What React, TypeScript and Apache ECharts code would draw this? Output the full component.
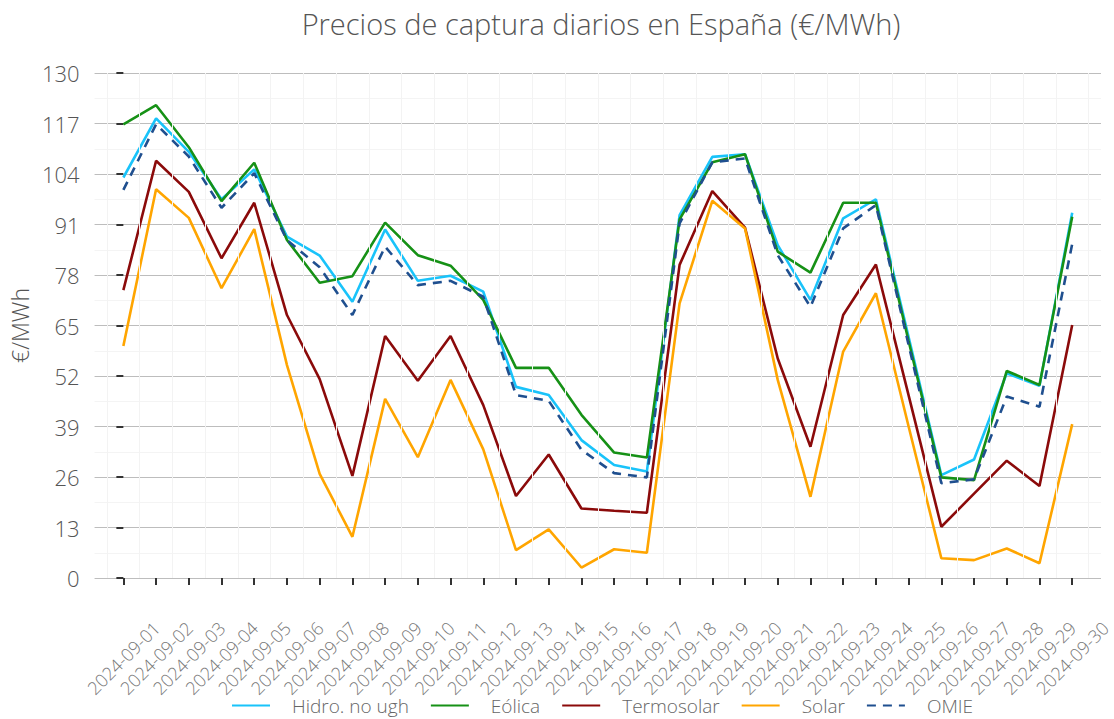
import React, { useEffect, useRef } from "react";
import * as echarts from "echarts";

const dates = [
  "2024-09-01", "2024-09-02", "2024-09-03", "2024-09-04", "2024-09-05",
  "2024-09-06", "2024-09-07", "2024-09-08", "2024-09-09", "2024-09-10",
  "2024-09-11", "2024-09-12", "2024-09-13", "2024-09-14", "2024-09-15",
  "2024-09-16", "2024-09-17", "2024-09-18", "2024-09-19", "2024-09-20",
  "2024-09-21", "2024-09-22", "2024-09-23", "2024-09-24", "2024-09-25",
  "2024-09-26", "2024-09-27", "2024-09-28", "2024-09-29", "2024-09-30",
];

const hidro = [103.1, 118.3, 109.7, 97.5, 105.2, 87.9, 83.0, 71.1, 89.7, 76.5, 77.8, 73.7, 49.2, 47.1, 35.5, 29.1, 27.4, 93.4, 108.4, 109.1, 85.7, 71.6, 92.6, 97.5, 62.0, 26.5, 30.5, 52.7, 49.5, 94.0];
const eolica = [116.8, 121.7, 110.9, 97.0, 106.9, 87.0, 76.0, 77.7, 91.5, 83.1, 80.4, 71.6, 54.1, 54.1, 42.0, 32.3, 31.0, 92.3, 107.0, 109.1, 84.0, 78.6, 96.6, 96.6, 61.0, 25.9, 25.2, 53.3, 49.7, 93.0];
const termosolar = [74.1, 107.4, 99.4, 82.3, 96.6, 67.7, 51.2, 26.3, 62.3, 50.8, 62.3, 44.5, 21.1, 31.8, 17.9, 17.3, 16.8, 80.6, 99.6, 90.2, 56.5, 33.8, 67.7, 80.7, 47.0, 13.2, 21.7, 30.2, 23.7, 65.1];
const solar = [59.7, 100.1, 92.7, 74.6, 89.8, 54.8, 26.8, 10.6, 46.1, 31.1, 51.0, 33.1, 7.2, 12.5, 2.7, 7.4, 6.5, 70.7, 97.1, 90.0, 51.0, 20.9, 58.3, 73.3, 39.0, 5.1, 4.6, 7.6, 3.8, 39.6];
const omie = [99.9, 116.8, 108.5, 95.3, 104.2, 87.0, 80.0, 67.7, 85.3, 75.4, 76.5, 72.4, 47.1, 45.6, 33.0, 27.0, 25.9, 91.3, 107.0, 108.0, 83.1, 69.8, 90.0, 96.0, 60.0, 24.4, 25.4, 46.7, 44.1, 86.0];

const seriesNames = ["Hidro. no ugh", "Eólica", "Termosolar", "Solar", "OMIE"];
const seriesColors = ["#19C3FA", "#169116", "#8B0A0A", "#FFA500", "#1F4F8F"];
const seriesData = [hidro, eolica, termosolar, solar, omie];

const yTicks = [0, 13, 26, 39, 52, 65, 78, 91, 104, 117, 130];

const FONT = "'Open Sans', Lato, sans-serif";

export default function App() {
  const ref = useRef<HTMLDivElement>(null);

  useEffect(() => {
    if (!ref.current) return;
    const chart = echarts.init(ref.current, null, { renderer: "svg" });
    const idx = dates.map((_, i) => i);
    const minorX = dates.map((_, i) => i - 0.5).concat([dates.length - 0.5]);

    const series: any[] = seriesNames.map((name, s) => ({
      name,
      type: "line",
      data: seriesData[s].map((v, i) => [i, v]),
      symbol: "none",
      showSymbol: false,
      lineStyle: {
        color: seriesColors[s],
        width: 2.6,
        type: s === 4 ? [9, 7] : "solid",
      },
      itemStyle: { color: seriesColors[s] },
      z: s === 4 ? 5 : 3,
    }));
    series.push({
      name: "__minor",
      type: "line",
      data: [],
      silent: true,
      markLine: {
        silent: true,
        symbol: "none",
        label: { show: false },
        lineStyle: { color: "#f3f3f3", width: 1, type: "solid" },
        data: minorX.map((x) => ({ xAxis: x })),
      },
      z: 0,
    });

    chart.setOption({
      animation: false,
      backgroundColor: "#ffffff",
      title: {
        text: "Precios de captura diarios en España (€/MWh)",
        left: 596,
        textAlign: "center",
        top: 4,
        textStyle: {
          fontFamily: FONT,
          fontSize: 29,
          fontWeight: 300,
          color: "#555555",
        },
      },
      legend: {
        data: seriesNames,
        left: 226,
        top: 691,
        itemWidth: 38,
        itemHeight: 12,
        itemGap: 21,
        itemStyle: { opacity: 0 },
        textStyle: {
          fontFamily: FONT,
          fontSize: 19,
          fontWeight: 300,
          color: "#666666",
          padding: [0, 0, 0, 17],
        },
      },
      grid: {
        left: 92,
        right: 13,
        top: 73,
        bottom: 141,
        containLabel: false,
      },
      xAxis: {
        type: "value",
        min: -0.88,
        max: 29.88,
        offset: 26,
        axisLine: { show: false },
        splitLine: { show: false },
        axisTick: {
          show: true,
          customValues: idx,
          length: 7,
          lineStyle: { color: "#333333", width: 2 },
        },
        axisLabel: {
          customValues: idx,
          formatter: (v: number) => dates[Math.round(v)] ?? "",
          rotate: 45,
          align: "center",
          verticalAlign: "middle",
          margin: 54,
          fontFamily: FONT,
          fontSize: 18,
          fontWeight: 300,
          color: "#777777",
        },
      },
      yAxis: {
        type: "value",
        min: 0,
        max: 130,
        interval: 13,
        name: "€/MWh",
        nameLocation: "middle",
        nameRotate: 90,
        nameGap: 62,
        nameTextStyle: {
          fontFamily: FONT,
          fontSize: 23,
          fontWeight: 300,
          color: "#555555",
        },
        axisLine: { show: false },
        axisTick: {
          show: true,
          length: 7,
          lineStyle: { color: "#333333", width: 2 },
        },
        axisLabel: {
          margin: 15,
          fontFamily: FONT,
          fontSize: 22,
          fontWeight: 300,
          color: "#555555",
          formatter: (v: number) => (yTicks.includes(v) ? String(v) : ""),
        },
        splitLine: { show: true, lineStyle: { color: "#bdbdbd", width: 1.2 } },
        minorTick: { show: false, splitNumber: 2 },
        minorSplitLine: { show: true, lineStyle: { color: "#f4f4f4", width: 1 } },
      },
      series,
    });
    return () => chart.dispose();
  }, []);

  return (
    <div
      ref={ref}
      style={{ position: "fixed", left: 0, top: 0, width: 1114, height: 719 }}
    />
  );
}
